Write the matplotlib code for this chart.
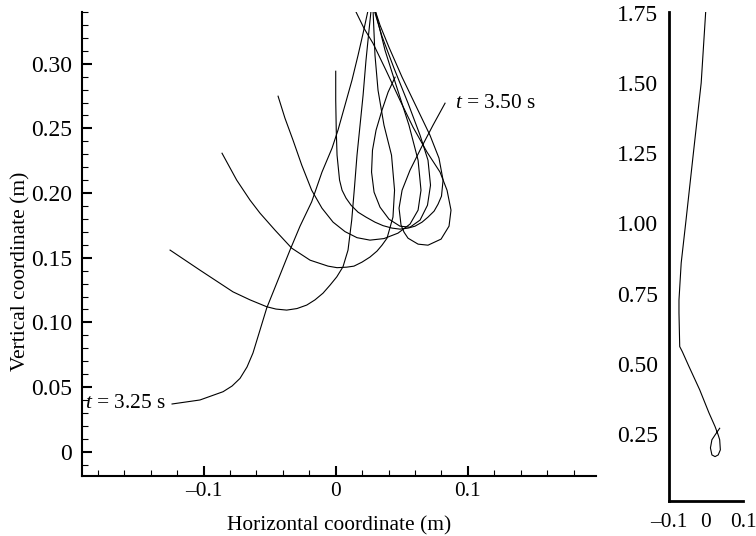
import numpy as np
import matplotlib
matplotlib.use('Agg')
import matplotlib.pyplot as plt

plt.rcParams['font.family'] = ['Liberation Serif', 'DejaVu Serif']
plt.rcParams['mathtext.fontset'] = 'custom'
plt.rcParams['mathtext.rm'] = 'Liberation Serif'
plt.rcParams['mathtext.it'] = 'Liberation Serif:italic'

FS = 15.4
FS_Y = 17

# filament shapes, left panel (m)
c1_x = [-0.1238, -0.1027, -0.0852, -0.0784, -0.0724, -0.0671, -0.0626, -0.0573, -0.0522, -0.0446,
        -0.0346, -0.0270, -0.0182, -0.0104, -0.0028, 0.0017, 0.0070, 0.0123, 0.0169, 0.0207, 0.0246]
c1_y = [0.0369, 0.0400, 0.0464, 0.0508, 0.0567, 0.0655, 0.0763, 0.0940, 0.1111, 0.1304,
        0.1559, 0.1744, 0.1932, 0.2162, 0.2347, 0.2486, 0.2679, 0.2873, 0.3066, 0.3236, 0.3420]

c2_x = [-0.1253, -0.1027, -0.0777, -0.0648, -0.0522, -0.0452, -0.0371, -0.0293, -0.0219, -0.0157,
        -0.0096, -0.0043, 0.0008, 0.0055, 0.0093, 0.0121, 0.0142, 0.0161, 0.0184, 0.0207,
        0.0229, 0.0248, 0.0268]
c2_y = [0.1559, 0.1404, 0.1236, 0.1174, 0.1121, 0.1103, 0.1095, 0.1107, 0.1134, 0.1174,
        0.1226, 0.1288, 0.1352, 0.1430, 0.1559, 0.1791, 0.2046, 0.2293, 0.2525, 0.2757,
        0.3027, 0.3220, 0.3420]

c3_x = [-0.0860, -0.0749, -0.0648, -0.0573, -0.0459, -0.0333, -0.0194, -0.0058, 0.0010, 0.0083,
        0.0138, 0.0199, 0.0259, 0.0312, 0.0350, 0.0388, 0.0433, 0.0445, 0.0422, 0.0365,
        0.0320, 0.0297, 0.0282]
c3_y = [0.2308, 0.2100, 0.1945, 0.1845, 0.1713, 0.1574, 0.1481, 0.1435, 0.1423, 0.1427,
        0.1435, 0.1466, 0.1505, 0.1551, 0.1597, 0.1651, 0.1814, 0.2022, 0.2293, 0.2525,
        0.2795, 0.3066, 0.3420]

c4_x = [-0.0436, -0.0384, -0.0323, -0.0257, -0.0182, -0.0104, -0.0020, 0.0070, 0.0161, 0.0259,
        0.0365, 0.0471, 0.0562, 0.0623, 0.0645, 0.0623, 0.0554, 0.0464, 0.0373, 0.0296]
c4_y = [0.2749, 0.2579, 0.2409, 0.2216, 0.2022, 0.1883, 0.1775, 0.1702, 0.1655, 0.1636,
        0.1648, 0.1690, 0.1760, 0.1868, 0.2022, 0.2254, 0.2525, 0.2811, 0.3104, 0.3420]

c5_x = [0.0000, 0.0000, 0.0004, 0.0010, 0.0029, 0.0048, 0.0078, 0.0116, 0.0169, 0.0229,
        0.0297, 0.0358, 0.0426, 0.0486, 0.0547, 0.0600, 0.0653, 0.0698, 0.0744, 0.0774,
        0.0800, 0.0812, 0.0781, 0.0713, 0.0615, 0.0502, 0.0403, 0.0335, 0.0296]
c5_y = [0.2942, 0.2718, 0.2486, 0.2293, 0.2100, 0.2022, 0.1961, 0.1906, 0.1852, 0.1814,
        0.1775, 0.1748, 0.1729, 0.1721, 0.1729, 0.1744, 0.1775, 0.1814, 0.1860, 0.1914,
        0.1976, 0.2100, 0.2270, 0.2447, 0.2656, 0.2896, 0.3127, 0.3298, 0.3420]

c6_x = [0.0449, 0.0396, 0.0350, 0.0305, 0.0278, 0.0271, 0.0290, 0.0335, 0.0403, 0.0486,
        0.0562, 0.0638, 0.0694, 0.0717, 0.0698, 0.0638, 0.0547, 0.0441, 0.0350, 0.0289]
c6_y = [0.2896, 0.2780, 0.2641, 0.2486, 0.2331, 0.2162, 0.2007, 0.1891, 0.1798, 0.1744,
        0.1736, 0.1791, 0.1906, 0.2061, 0.2254, 0.2447, 0.2695, 0.2965, 0.3212, 0.3420]

c7_x = [0.0827, 0.0736, 0.0645, 0.0562, 0.0502, 0.0479, 0.0494, 0.0517, 0.0547, 0.0623,
        0.0698, 0.0797, 0.0857, 0.0872, 0.0842, 0.0789, 0.0691, 0.0585, 0.0486, 0.0380,
        0.0282, 0.0214, 0.0144]
c7_y = [0.2695, 0.2525, 0.2347, 0.2177, 0.2022, 0.1883, 0.1752, 0.1697, 0.1651, 0.1605,
        0.1597, 0.1644, 0.1744, 0.1868, 0.2022, 0.2162, 0.2316, 0.2509, 0.2718, 0.2950,
        0.3158, 0.3274, 0.3420]

# whole filament at t = 3.50 s, right panel (m)
full_x = [-0.0005, -0.013, -0.034, -0.0545, -0.067, -0.073, -0.073, -0.071, -0.064, -0.046,
          -0.017, 0.008, 0.0245, 0.033, 0.037, 0.0388, 0.033, 0.0245, 0.016, 0.012,
          0.016, 0.0245, 0.037]
full_y = [1.76, 1.500, 1.251, 1.005, 0.859, 0.727, 0.681, 0.561, 0.543, 0.490,
          0.407, 0.325, 0.276, 0.246, 0.229, 0.193, 0.175, 0.169, 0.175, 0.200,
          0.229, 0.246, 0.270]

xt_main = [-0.1, 0, 0.1]
xt_main_lab = ['\u20130.1', '0', '0.1']
yt_main = [0, 0.05, 0.10, 0.15, 0.20, 0.25, 0.30]
yt_main_lab = ['0', '0.05', '0.10', '0.15', '0.20', '0.25', '0.30']
yt_side = [0.25, 0.50, 0.75, 1.00, 1.25, 1.50, 1.75]
yt_side_lab = ['0.25', '0.50', '0.75', '1.00', '1.25', '1.50', '1.75']

fig = plt.figure(figsize=(7.56, 5.36), dpi=100)
ax = fig.add_axes([0.1085, 0.1119, 0.6799, 0.8657])
ax2 = fig.add_axes([0.8849, 0.0659, 0.0979, 0.9123])

for xs, ys in [(c1_x, c1_y), (c2_x, c2_y), (c3_x, c3_y), (c4_x, c4_y),
               (c5_x, c5_y), (c6_x, c6_y), (c7_x, c7_y)]:
    ax.plot(xs, ys, color='black', lw=0.8)

ax.set_xlim(-0.1919, 0.1969)
ax.set_ylim(-0.0188, 0.34)
for s in ['top', 'right']:
    ax.spines[s].set_visible(False)
for s in ['left', 'bottom']:
    ax.spines[s].set_linewidth(1.5)
ax.set_xticks(xt_main)
ax.set_xticklabels(xt_main_lab)
ax.set_xticks(np.arange(-0.18, 0.19, 0.02), minor=True)
ax.set_yticks(yt_main)
ax.set_yticklabels(yt_main_lab)
ax.set_yticks(np.arange(-0.01, 0.345, 0.01), minor=True)
ax.tick_params(which='major', direction='in', length=7, width=1.5, labelsize=FS)
ax.tick_params(which='minor', direction='in', length=4, width=0.8)
ax.tick_params(axis='x', pad=4)
ax.tick_params(axis='y', pad=7, labelsize=FS_Y)
ax.set_xlabel('Horizontal coordinate (m)', fontsize=FS, labelpad=11)
ax.set_ylabel('Vertical coordinate (m)', fontsize=FS)
ax.yaxis.set_label_coords(-0.101, 0.442)

ax.text(-0.190, 0.0369, r'$t$ = 3.25 s', fontsize=FS, va='center', ha='left')
ax.text(0.0900, 0.2695, r'$t$ = 3.50 s', fontsize=FS, va='center', ha='left')

ax2.plot(full_x, full_y, color='black', lw=0.8)
ax2.set_xlim(-0.1, 0.0865)
ax2.set_ylim(0.012, 1.754)
for s in ['top', 'right']:
    ax2.spines[s].set_visible(False)
for s in ['left', 'bottom']:
    ax2.spines[s].set_linewidth(2)
ax2.set_xticks(xt_main)
ax2.set_xticklabels(xt_main_lab)
ax2.set_yticks(yt_side)
ax2.set_yticklabels(yt_side_lab)
ax2.tick_params(length=0, labelsize=FS)
ax2.tick_params(axis='x', pad=9)
ax2.tick_params(axis='y', pad=8, labelsize=FS_Y)

fig.savefig('out.png', dpi=100)
